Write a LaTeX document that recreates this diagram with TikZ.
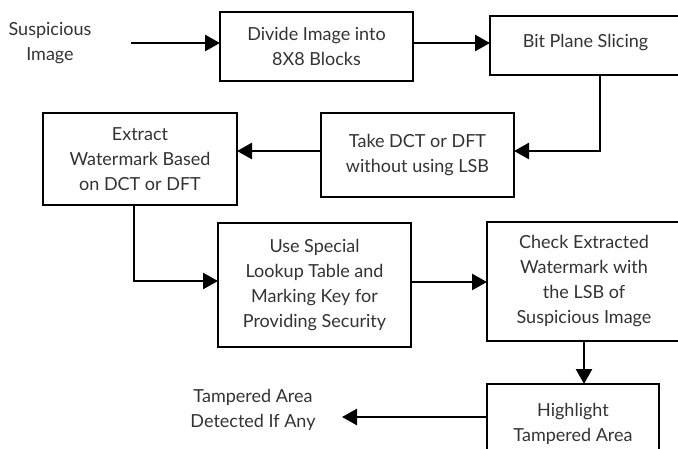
\documentclass[tikz,border=0pt]{standalone}
\usepackage{fontspec}
\setmainfont{Lato}
\usetikzlibrary{arrows.meta,calc}
\definecolor{txt}{HTML}{333333}
\tikzset{
  stepbox/.style={draw=black, line width=2pt, inner sep=0pt, outer sep=0pt,
    align=center, text=txt, font=\fontsize{18}{25}\selectfont},
  lbl/.style={align=center, text=txt, inner sep=0pt, font=\fontsize{18}{25}\selectfont},
  arr/.style={draw=black, line width=2.6pt, -{Triangle[length=15pt,width=16pt]}}
}
\begin{document}
\begin{tikzpicture}[x=1pt,y=-1pt]
\useasboundingbox (0,0) rectangle (678,448);

% process boxes
\node[stepbox, minimum width=193pt, minimum height=69pt] (d) at (316.5,46.5)
  {Divide Image into\\8X8 Blocks};
\node[stepbox, minimum width=191pt, minimum height=59pt] (b) at (585.5,45.5)
  {\raisebox{10pt}{Bit Plane Slicing}};
\node[stepbox, minimum width=193pt, minimum height=84pt] (t) at (417.5,155)
  {\raisebox{11.5pt}{\begin{tabular}{@{}c@{}}Take DCT or DFT\\without using LSB\end{tabular}}};
\node[stepbox, minimum width=194pt, minimum height=92pt] (e) at (140,159)
  {Extract\\Watermark Based\\on DCT or DFT};
\node[stepbox, minimum width=193pt, minimum height=124pt] (u) at (314.5,285)
  {Use Special\\Lookup Table and\\Marking Key for\\Providing Security};
\node[stepbox, minimum width=194pt, minimum height=119pt] (c) at (584,281.5)
  {Check Extracted\\Watermark with\\the LSB of\\Suspicious Image};
\node[stepbox, minimum width=172pt, minimum height=80pt] (h) at (573,424)
  {\raisebox{7pt}{\begin{tabular}{@{}c@{}}Highlight\\Tampered Area\end{tabular}}};

% free labels
\node[lbl] (s) at (50,43) {Suspicious\\Image};
\node[lbl] (o) at (253,410) {Tampered Area\\Detected If Any};
\coordinate (sin) at (131,43);
\coordinate (out) at (342,417);

% connectors
\draw[arr] (sin) -- (sin -| d.west);
\draw[arr] ([yshift=3.5pt]d.east) -- ([yshift=3.5pt]d.east -| b.west);
\draw[arr] ([xshift=14.5pt]b.south) |- ([yshift=4pt]t.east);
\draw[arr] ([yshift=4pt]t.west) -- ([yshift=4pt]t.west -| e.east);
\draw[arr] ([xshift=-6pt]e.south) |- ([yshift=4pt]u.west);
\draw[arr] ([yshift=3pt]u.east) -- ([yshift=3pt]u.east -| c.west);
\draw[arr] (c.south) -- (c.south |- h.north);
\draw[arr] ([yshift=7pt]h.west) -- (out);
\end{tikzpicture}
\end{document}
